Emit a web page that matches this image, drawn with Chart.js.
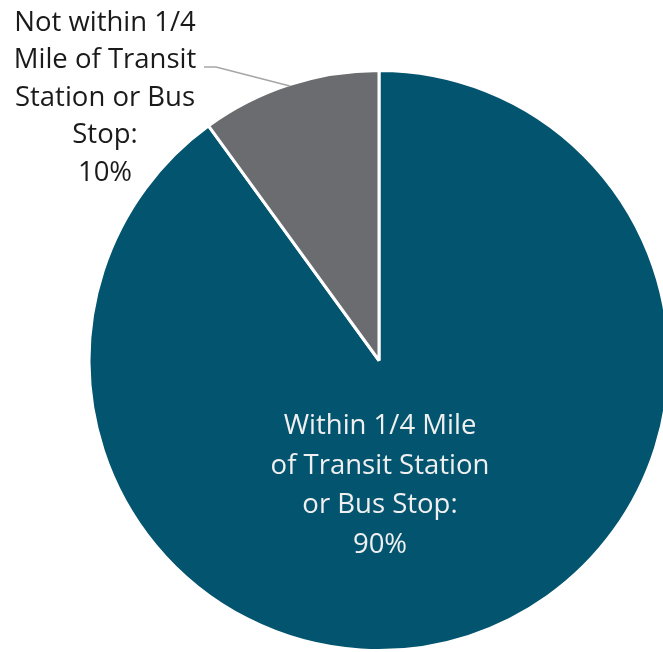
<!DOCTYPE html>
<html>
<head>
<meta charset="utf-8">
<script src="https://cdn.jsdelivr.net/npm/chart.js@4/dist/chart.umd.min.js"></script>
<style>
html,body{margin:0;padding:0;background:#fff;overflow:hidden;}
#wrap{position:relative;width:663px;height:652px;overflow:hidden;}
#box{position:absolute;left:0;top:0;width:700px;height:652px;}
</style>
</head>
<body>
<div id="wrap"><div id="box"><canvas id="c"></canvas></div></div>
<script>
const categories = ["Within 1/4 Mile of Transit Station or Bus Stop", "Not within 1/4 Mile of Transit Station or Bus Stop"];
const values = [90, 10];
const colors = ["#03546f", "#6b6c6f"];
const labelLines = [
  ["Within 1/4 Mile", "of Transit Station", "or Bus Stop:", "90%"],
  ["Not within 1/4", "Mile of Transit", "Station or Bus", "Stop:", "10%"]
];

const labelPlugin = {
  id: 'pieLabels',
  afterDatasetsDraw(chart) {
    const ctx = chart.ctx;
    const meta = chart.getDatasetMeta(0);
    const arc0 = meta.data[0];
    const cx = arc0.x, cy = arc0.y, r = arc0.outerRadius;
    ctx.save();
    ctx.font = '27.5px "Open Sans", sans-serif';
    ctx.textAlign = 'center';
    ctx.textBaseline = 'middle';
    ctx.fillStyle = '#f0f0f0';
    const inX = cx + 1, inY0 = cy + 66, inStep = 39.5;
    labelLines[0].forEach((t, i) => ctx.fillText(t, inX, inY0 + i * inStep));
    ctx.fillStyle = '#1a1a1a';
    const outX = 105, outY0 = 23, outStep = 37.5;
    labelLines[1].forEach((t, i) => ctx.fillText(t, outX, outY0 + i * outStep));
    const a1 = meta.data[1];
    const mid = (a1.startAngle + a1.endAngle) / 2;
    const ex = cx + Math.cos(mid) * r * 0.995, ey = cy + Math.sin(mid) * r * 0.995;
    ctx.strokeStyle = '#a6a6a6';
    ctx.lineWidth = 1.5;
    ctx.beginPath();
    ctx.moveTo(204, 67);
    ctx.lineTo(216, 67);
    ctx.lineTo(ex, ey);
    ctx.stroke();
    ctx.restore();
  }
};

new Chart(document.getElementById('c'), {
  type: 'pie',
  data: {
    labels: categories,
    datasets: [{
      data: values,
      backgroundColor: colors,
      borderColor: '#ffffff',
      borderWidth: 3,
      hoverOffset: 0
    }]
  },
  options: {
    responsive: true,
    maintainAspectRatio: false,
    animation: false,
    rotation: 0,
    layout: { padding: { left: 87, right: 29, top: 69, bottom: -1 } },
    plugins: { legend: { display: false }, tooltip: { enabled: false } }
  },
  plugins: [labelPlugin]
});
</script>
</body>
</html>
